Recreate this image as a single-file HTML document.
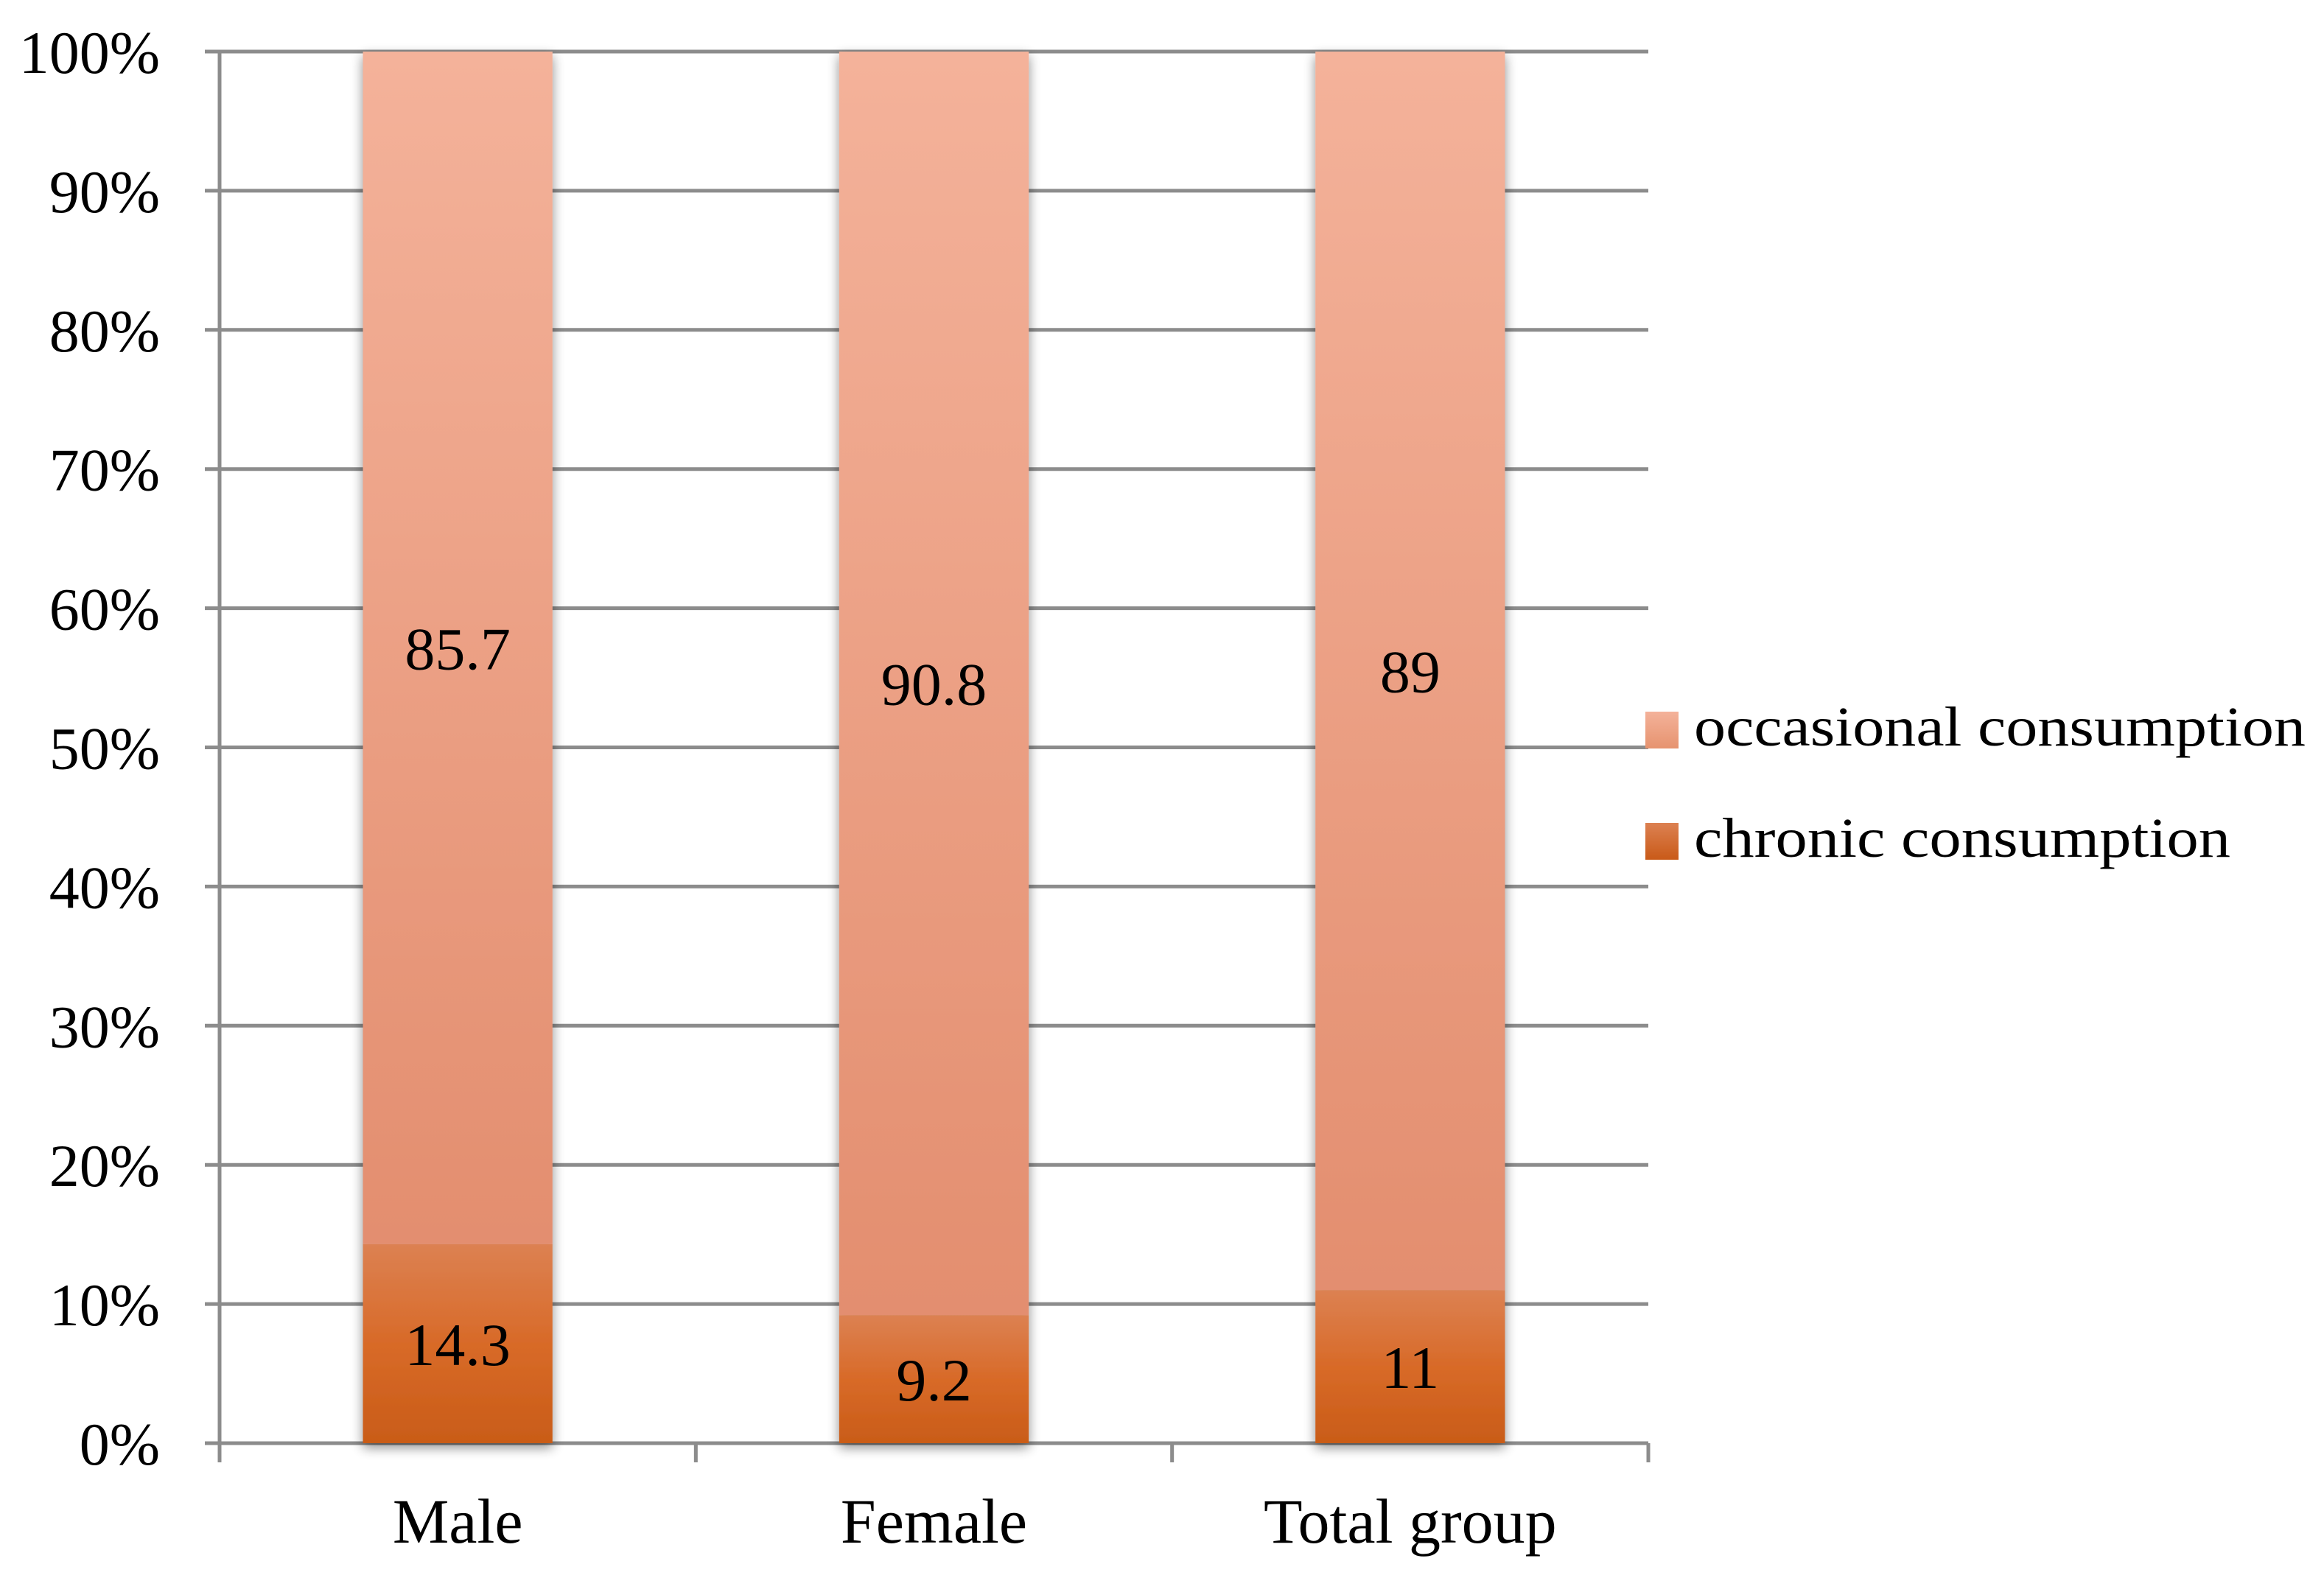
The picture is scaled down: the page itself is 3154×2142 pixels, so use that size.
<!DOCTYPE html>
<html><head><meta charset="utf-8"><style>
html,body{margin:0;padding:0;background:#fff;}
svg{display:block;}
text{font-family:"Liberation Serif",serif;fill:#000;}
</style></head><body>
<svg id="chart" width="3154" height="2142" viewBox="0 0 3154 2142" xmlns="http://www.w3.org/2000/svg">
<defs>
<linearGradient id="gOcc" x1="0" y1="0" x2="0" y2="1"><stop offset="0" stop-color="#f4b29a"/><stop offset="1" stop-color="#e38e6f"/></linearGradient>
<linearGradient id="gChr" x1="0" y1="0" x2="0" y2="1"><stop offset="0" stop-color="#dc8152"/><stop offset="0.5" stop-color="#d86a28"/><stop offset="1" stop-color="#c95c18"/></linearGradient>
<linearGradient id="gLegOcc" x1="0" y1="0" x2="0" y2="1"><stop offset="0" stop-color="#f4b29a"/><stop offset="1" stop-color="#e6936f"/></linearGradient>
<linearGradient id="gLegChr" x1="0" y1="0" x2="0" y2="1"><stop offset="0" stop-color="#dc8152"/><stop offset="1" stop-color="#c95a18"/></linearGradient>
<filter id="shadow" x="-20%" y="-5%" width="140%" height="110%"><feGaussianBlur in="SourceAlpha" stdDeviation="8"/><feOffset dx="0" dy="6"/><feComponentTransfer><feFuncA type="linear" slope="0.45"/></feComponentTransfer><feMerge><feMergeNode/><feMergeNode in="SourceGraphic"/></feMerge></filter>
</defs>
<g id="grid"></g>
<g id="bars"></g>
<g id="axes"></g>
<g id="legend">
<g>
<rect x="2233" y="966" width="45" height="50" fill="url(#gLegOcc)"/>
<text x="2299" y="1012" font-size="76" textLength="830" lengthAdjust="spacingAndGlyphs">occasional consumption</text>
</g>
<g>
<rect x="2233" y="1117" width="45" height="50" fill="url(#gLegChr)"/>
<text x="2299" y="1163" font-size="76" textLength="728" lengthAdjust="spacingAndGlyphs">chronic consumption</text>
</g>
</g>
</svg>
<script>
const categories = ["Male", "Female", "Total group"];
const chronicValues = [14.3, 9.2, 11];
const occasionalValues = [85.7, 90.8, 89];
const occasionalLabels = ["85.7", "90.8", "89"];
const chronicLabels = ["14.3", "9.2", "11"];
const yTicks = [0, 10, 20, 30, 40, 50, 60, 70, 80, 90, 100];
const yTickLabels = ["0%", "10%", "20%", "30%", "40%", "50%", "60%", "70%", "80%", "90%", "100%"];

const NS = "http://www.w3.org/2000/svg";
const plotL = 298, plotR = 2237, plotT = 70, plotB = 1959;
const FS = 82;
const bandW = (plotR - plotL) / categories.length;
const barW = bandW * 0.398;
function y(v){ return plotB - (v / 100) * (plotB - plotT); }
function xc(i){ return plotL + bandW * (i + 0.5); }
function mk(tag, attrs, parent){ const e = document.createElementNS(NS, tag); for (const k in attrs) e.setAttribute(k, attrs[k]); parent.appendChild(e); return e; }

const grid = document.getElementById('grid');
const axes = document.getElementById('axes');
const bars = document.getElementById('bars');

yTicks.forEach((t, i) => {
  const l = mk('line', {x1: plotL - 20, x2: plotR, y1: y(t), y2: y(t), stroke: '#8c8c8c', 'stroke-width': 5}, grid);
  
  
  const tx = mk('text', {x: 217, y: y(t) + 29, 'font-size': FS, 'text-anchor': 'end'}, axes);
  tx.textContent = yTickLabels[i];
  
  
});

const ya = mk('line', {x1: plotL, x2: plotL, y1: plotT, y2: plotB + 26, stroke: '#8c8c8c', 'stroke-width': 5}, axes);


for (let i = 1; i <= categories.length; i++) {
  const tk = mk('line', {x1: plotL + bandW * i, x2: plotL + bandW * i, y1: plotB, y2: plotB + 26, stroke: '#8c8c8c', 'stroke-width': 5}, axes);
  
  
}

categories.forEach((c, i) => {
  const g = mk('g', {filter: 'url(#shadow)'}, bars);
  
  
  const x0 = xc(i) - barW / 2;
  const ch = chronicValues[i], oc = occasionalValues[i];
  const r1 = mk('rect', {x: x0, y: y(ch + oc), width: barW, height: y(ch) - y(ch + oc), fill: 'url(#gOcc)'}, g);
  
  
  const r2 = mk('rect', {x: x0, y: y(ch), width: barW, height: y(0) - y(ch), fill: 'url(#gChr)'}, g);
  
  
  const t1 = mk('text', {x: xc(i), y: (y(ch + oc) + y(ch)) / 2 + 29, 'font-size': FS, 'text-anchor': 'middle'}, bars);
  t1.textContent = occasionalLabels[i];
  
  
  const t2 = mk('text', {x: xc(i), y: (y(ch) + y(0)) / 2 + 29, 'font-size': FS, 'text-anchor': 'middle'}, bars);
  t2.textContent = chronicLabels[i];
  
  
  const xl = mk('text', {x: xc(i), y: 2094, 'font-size': FS + 4, 'text-anchor': 'middle'}, axes);
  xl.textContent = c;
  
  
});
</script>
</body></html>
